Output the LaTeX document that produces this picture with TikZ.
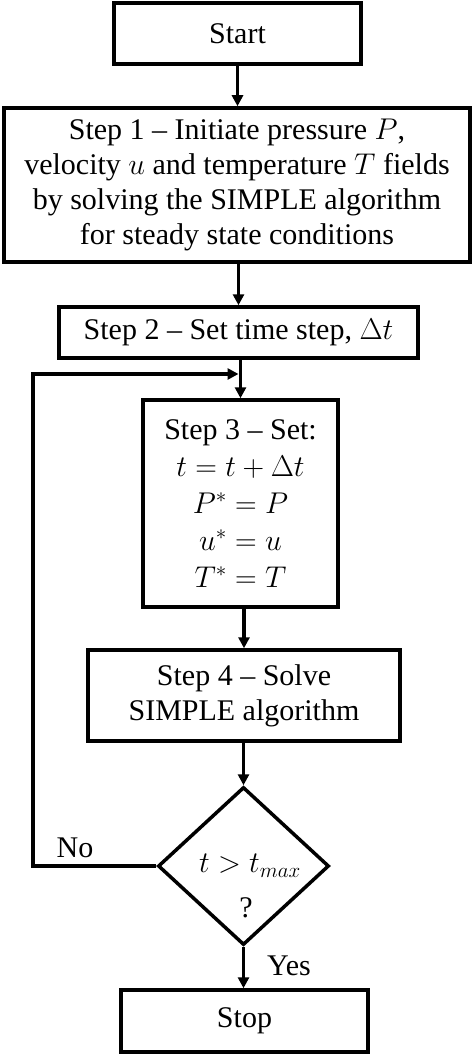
\RequirePackage{fix-cm}
\documentclass[tikz,border=0pt]{standalone}
\usepackage{fontspec}
\setmainfont{Liberation Serif}
\usetikzlibrary{arrows.meta,shapes.geometric}
\begin{document}
\begin{tikzpicture}[x=1pt,y=-1pt,
  box/.style={draw,line width=3.5pt,rectangle,inner sep=0pt,align=center,font=\fontsize{30}{35}\selectfont},
  decbox/.style={draw,line width=3.5pt,diamond,inner sep=0pt},
  arr/.style={line width=3.5pt,-{Triangle[length=11pt,width=11pt]}},
  lbl/.style={inner sep=0pt,font=\fontsize{30}{35}\selectfont}]
\useasboundingbox (0,0) rectangle (474,1056);
\node[box,minimum width=247pt,minimum height=61pt] (start) at (237.5,33.5) {Start};
\node[box,minimum width=466pt,minimum height=154pt] (step1) at (237,185)
  {Step 1 -- Initiate pressure $P$,\\velocity $u$ and temperature $T$ fields\\by solving the SIMPLE algorithm\\for steady state conditions};
\node[box,minimum width=359pt,minimum height=51pt] (step2) at (238.5,332.5) {Step 2 -- Set time step, $\Delta t$};
\node[box,minimum width=195pt,minimum height=207pt,font=\fontsize{30}{37}\selectfont] (step3) at (240.5,503.5)
  {Step 3 -- Set:\\$t=t+\Delta t$\\$P^{*}=P$\\$u^{*}=u$\\$T^{*}=T$};
\node[box,minimum width=312pt,minimum height=91pt] (step4) at (244,695.5) {Step 4 -- Solve\\SIMPLE algorithm};
\node[decbox,minimum width=171pt,minimum height=158pt] (dec) at (243.5,866) {};
\node[lbl] (dectext) at (250,866) {$t>t_{max}$};
\node[lbl] (decq) at (246,908) {?};
\node[box,minimum width=247pt,minimum height=62pt] (stop) at (244.5,1021) {Stop};
\node[lbl] (no) at (75,848) {No};
\node[lbl,anchor=west] (yes) at (267,966) {Yes};
\coordinate (loopc) at (33,374);
\draw[arr] (start.south) -- (start.south |- step1.north);
\draw[arr] (step1.south -| step2.north) -- (step2.north);
\draw[arr] (step3.north |- step2.south) -- (step3.north);
\draw[arr] (step3.south -| step4.north) -- (step4.north);
\draw[arr] (step4.south -| dec.north) -- (dec.north);
\draw[arr] (dec.south) -- (dec.south |- stop.north);
\draw[arr,shorten >=2pt] (dec.west) -| (loopc) -- (loopc -| step3.north);
\end{tikzpicture}
\end{document}
